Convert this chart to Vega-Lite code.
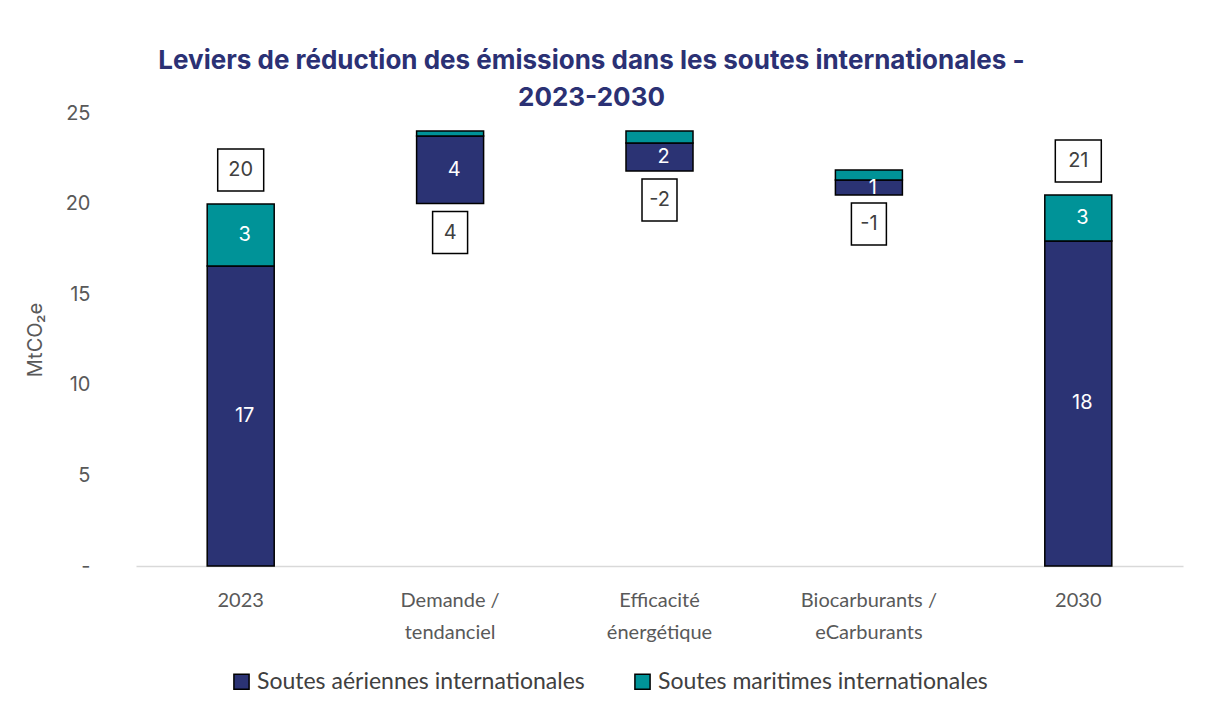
{
  "$schema": "https://vega.github.io/schema/vega-lite/v6.json",
  "autosize": {"type": "none"},
  "width": 1047,
  "height": 453,
  "padding": {"left": 136, "top": 113, "right": 27, "bottom": 147},
  "background": "white",
  "title": {
    "text": ["Leviers de réduction des émissions dans les soutes internationales -", "2023-2030"],
    "anchor": "middle",
    "frame": "group",
    "dx": -68,
    "offset": -8,
    "font": "Inter",
    "fontSize": 26,
    "fontWeight": "bold",
    "color": "#2b3174",
    "lineHeight": 37
  },
  "config": {
    "view": {"stroke": null},
    "axis": {"grid": false, "ticks": false}
  },
  "datasets": {
    "bars": [
      {"cat": "2023", "serie": "Soutes aériennes internationales", "y0": 0, "y1": 16.56, "label": "17"},
      {"cat": "2023", "serie": "Soutes maritimes internationales", "y0": 16.56, "y1": 19.98, "label": "3"},
      {"cat": "Demande / tendanciel", "serie": "Soutes aériennes internationales", "y0": 20.0, "y1": 23.73, "label": "4"},
      {"cat": "Demande / tendanciel", "serie": "Soutes maritimes internationales", "y0": 23.73, "y1": 24.0, "label": ""},
      {"cat": "Efficacité énergétique", "serie": "Soutes aériennes internationales", "y0": 21.8, "y1": 23.34, "label": "2"},
      {"cat": "Efficacité énergétique", "serie": "Soutes maritimes internationales", "y0": 23.34, "y1": 24.0, "label": ""},
      {"cat": "Biocarburants / eCarburants", "serie": "Soutes aériennes internationales", "y0": 20.47, "y1": 21.3, "label": "1"},
      {"cat": "Biocarburants / eCarburants", "serie": "Soutes maritimes internationales", "y0": 21.3, "y1": 21.85, "label": ""},
      {"cat": "2030", "serie": "Soutes aériennes internationales", "y0": 0, "y1": 17.94, "label": "18"},
      {"cat": "2030", "serie": "Soutes maritimes internationales", "y0": 17.94, "y1": 20.47, "label": "3"}
    ],
    "boxes": [
      {"cat": "2023", "kind": "total", "base": 19.98, "label": "20"},
      {"cat": "Demande / tendanciel", "kind": "delta", "base": 20.0, "label": "4"},
      {"cat": "Efficacité énergétique", "kind": "delta", "base": 21.8, "label": "-2"},
      {"cat": "Biocarburants / eCarburants", "kind": "delta", "base": 20.47, "label": "-1"},
      {"cat": "2030", "kind": "total", "base": 20.47, "label": "21"}
    ]
  },
  "encoding": {
    "x": {
      "field": "cat",
      "type": "nominal",
      "sort": ["2023", "Demande / tendanciel", "Efficacité énergétique", "Biocarburants / eCarburants", "2030"],
      "scale": {"paddingInner": 0.68, "paddingOuter": 0.34},
      "axis": {
        "title": null,
        "labelAngle": 0,
        "labelFont": "Lato",
        "labelFontSize": 20,
        "labelColor": "#595959",
        "labelPadding": 24,
        "labelLineHeight": 32,
        "labelBaseline": "top",
        "domainColor": "#d9d9d9",
        "domainWidth": 1.5,
        "labelExpr": "datum.value == 'Demande / tendanciel' ? ['Demande /', 'tendanciel'] : datum.value == 'Efficacité énergétique' ? ['Efficacité', 'énergétique'] : datum.value == 'Biocarburants / eCarburants' ? ['Biocarburants /', 'eCarburants'] : datum.label"
      }
    }
  },
  "layer": [
    {
      "data": {"name": "bars"},
      "mark": {"type": "bar", "stroke": "black", "strokeWidth": 1.5},
      "encoding": {
        "y": {
          "field": "y0",
          "type": "quantitative",
          "scale": {"domain": [0, 25], "nice": false},
          "axis": {
            "values": [0, 5, 10, 15, 20, 25],
            "domain": false,
            "labelExpr": "datum.value == 0 ? '-' : datum.label",
            "labelFont": "Inter",
            "labelFontSize": 20,
            "labelColor": "#595959",
            "labelPadding": 46,
            "title": "MtCO₂e",
            "titleFont": "Inter",
            "titleFontSize": 20,
            "titleFontWeight": "normal",
            "titleColor": "#595959",
            "titlePadding": 20
          }
        },
        "y2": {"field": "y1"},
        "color": {
          "field": "serie",
          "type": "nominal",
          "scale": {
            "domain": ["Soutes aériennes internationales", "Soutes maritimes internationales"],
            "range": ["#2b3374", "#009398"]
          },
          "legend": {
            "title": null,
            "orient": "none",
            "direction": "horizontal",
            "legendX": 94,
            "legendY": 557,
            "symbolType": "square",
            "symbolSize": 230,
            "symbolStrokeColor": "black",
            "symbolStrokeWidth": 1.5,
            "symbolOpacity": 1,
            "labelFont": "Lato",
            "labelFontSize": 23,
            "labelColor": "#404040",
            "labelOffset": 4,
            "labelLimit": 0,
            "columnPadding": 46
          }
        }
      }
    },
    {
      "data": {"name": "bars"},
      "transform": [{"calculate": "(datum.y0 + datum.y1) / 2", "as": "mid"}],
      "mark": {"type": "text", "color": "white", "font": "Inter", "fontSize": 20, "baseline": "middle", "dx": 4},
      "encoding": {
        "y": {"field": "mid", "type": "quantitative"},
        "text": {"field": "label"}
      }
    },
    {
      "data": {"name": "boxes"},
      "transform": [{"filter": "datum.kind == 'total'"}],
      "mark": {"type": "point", "filled": true, "fill": "white", "stroke": "black", "strokeWidth": 1.5, "opacity": 1, "size": 1764, "shape": "M-1.095,-1H1.095V1H-1.095Z", "yOffset": -34},
      "encoding": {"y": {"field": "base", "type": "quantitative"}}
    },
    {
      "data": {"name": "boxes"},
      "transform": [{"filter": "datum.kind == 'total'"}],
      "mark": {"type": "text", "color": "#404040", "font": "Inter", "fontSize": 20, "baseline": "middle", "yOffset": -34},
      "encoding": {"y": {"field": "base", "type": "quantitative"}, "text": {"field": "label"}}
    },
    {
      "data": {"name": "boxes"},
      "transform": [{"filter": "datum.kind == 'delta'"}],
      "mark": {"type": "point", "filled": true, "fill": "white", "stroke": "black", "strokeWidth": 1.5, "opacity": 1, "size": 1764, "shape": "M-0.833,-1H0.833V1H-0.833Z", "yOffset": 29},
      "encoding": {"y": {"field": "base", "type": "quantitative"}}
    },
    {
      "data": {"name": "boxes"},
      "transform": [{"filter": "datum.kind == 'delta'"}],
      "mark": {"type": "text", "color": "#404040", "font": "Inter", "fontSize": 20, "baseline": "middle", "yOffset": 29},
      "encoding": {"y": {"field": "base", "type": "quantitative"}, "text": {"field": "label"}}
    }
  ]
}
